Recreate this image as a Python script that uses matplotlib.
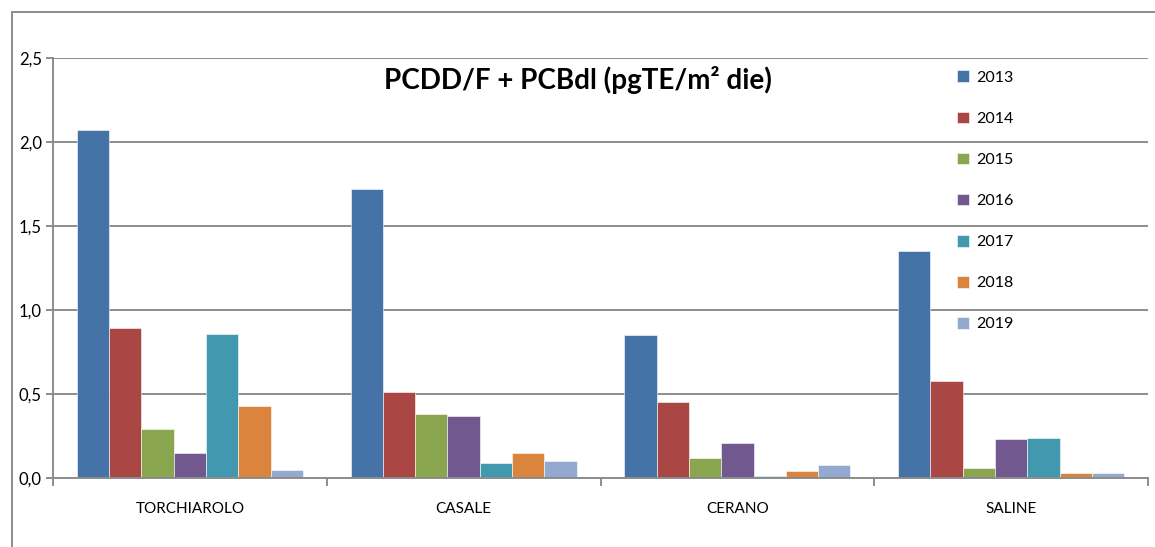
import matplotlib
matplotlib.use("Agg")
import matplotlib.pyplot as plt
import numpy as np
from matplotlib.patches import Rectangle

plt.rcParams['font.family'] = ['Lato', 'DejaVu Sans']

categories = ["TORCHIAROLO", "CASALE", "CERANO", "SALINE"]
years = ["2013", "2014", "2015", "2016", "2017", "2018", "2019"]
v2013 = [2.07, 1.72, 0.85, 1.35]
v2014 = [0.89, 0.51, 0.45, 0.58]
v2015 = [0.29, 0.38, 0.12, 0.06]
v2016 = [0.15, 0.37, 0.21, 0.23]
v2017 = [0.86, 0.09, 0.01, 0.24]
v2018 = [0.43, 0.15, 0.04, 0.03]
v2019 = [0.05, 0.10, 0.08, 0.03]
series = [v2013, v2014, v2015, v2016, v2017, v2018, v2019]
colors = ["#4572A7", "#AA4643", "#89A54E", "#71588F", "#4198AF", "#DB843D", "#93A9CF"]
yticks = [0.0, 0.5, 1.0, 1.5, 2.0, 2.5]
ytick_labels = ["0,0", "0,5", "1,0", "1,5", "2,0", "2,5"]
title = "PCDD/F + PCBdl (pgTE/m² die)"

W, H = 1155, 547
fig = plt.figure(figsize=(W / 100, H / 100), dpi=100)
# outer chart border
fig.patches.append(Rectangle((12 / W, -0.1), 1.2, (H - 12) / H + 0.1, transform=fig.transFigure,
                             fill=False, edgecolor="#8c8c8c", linewidth=1.4))

ax = fig.add_axes([53 / W, (H - 478) / H, (1148 - 53) / W, (478 - 58) / H])
x = np.arange(len(categories))
bw = 0.118
n = len(series)
for i, (vals, c, yr) in enumerate(zip(series, colors, years)):
    ax.bar(x - (n - 1) / 2 * bw + i * bw, vals, width=bw, color=c, edgecolor="white",
           linewidth=0.4, label=yr, zorder=3)

ax.set_xlim(-0.5, len(categories) - 0.5)
ax.set_ylim(0, 2.5)
ax.set_yticks(yticks)
ax.set_yticklabels(ytick_labels, fontsize=12)
ax.set_xticks(x)
ax.set_xticklabels(categories, fontsize=11)
ax.tick_params(axis='x', length=0, pad=17)
ax.set_xticks(np.arange(len(categories) + 1) - 0.5, minor=True)
ax.tick_params(axis='x', which='minor', length=6, width=1.4, color="#8c8c8c")
ax.tick_params(axis='y', length=5, width=1.4, color="#8c8c8c", pad=3)
ax.grid(axis='y', color="#8c8c8c", linewidth=1.4, zorder=0)
for s in ["top", "right"]:
    ax.spines[s].set_visible(False)
for s in ["left", "bottom"]:
    ax.spines[s].set_color("#8c8c8c")
    ax.spines[s].set_linewidth(1.4)
ax.spines["bottom"].set_zorder(4)

leg = ax.legend(loc="upper left", bbox_to_anchor=((946 - 53) / (1148 - 53), 0.997), frameon=False,
                fontsize=11.5, handlelength=0.75, handleheight=0.75, handletextpad=0.45,
                labelspacing=1.67, borderaxespad=0.3)

fig.text(578 / W, 1 - 80 / H, title, ha="center", va="center", fontsize=20, fontweight="bold")

fig.savefig("out.png", dpi=100)
